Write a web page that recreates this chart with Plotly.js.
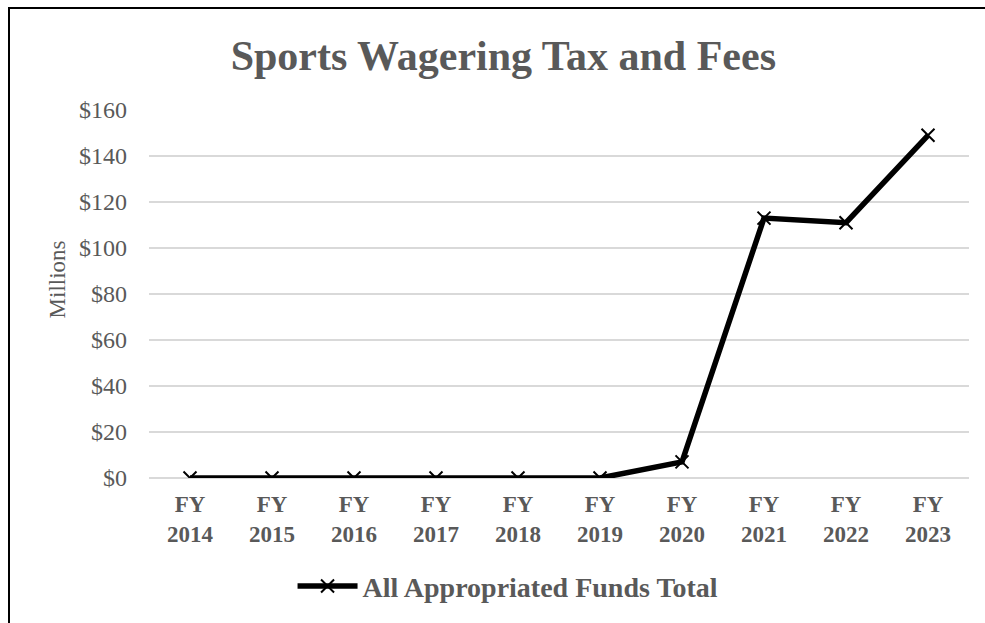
<!DOCTYPE html>
<html>
<head>
<meta charset="utf-8">
<script src="https://cdn.plot.ly/plotly-3.0.1.min.js"></script>
<style>
  html, body { margin: 0; padding: 0; background: white; overflow: hidden; }
  #frame { position: absolute; left: 8px; top: 7px; width: 1100px; height: 800px;
           border-left: 2px solid #000; border-top: 2px solid #000; }
  #chart { position: absolute; left: 0; top: 0; width: 985px; height: 623px; }
</style>
</head>
<body>
<div id="frame"></div>
<div id="chart"></div>
<script>
var fiscalYears = ['FY<br>2014', 'FY<br>2015', 'FY<br>2016', 'FY<br>2017', 'FY<br>2018',
                   'FY<br>2019', 'FY<br>2020', 'FY<br>2021', 'FY<br>2022', 'FY<br>2023'];
var totalFunds = [0, 0, 0, 0, 0, 0, 7, 113, 111, 149];
var seriesName = 'All Appropriated Funds Total';
var yTicks = [0, 20, 40, 60, 80, 100, 120, 140, 160];

var grey = '#595959';
var serif = '"Liberation Serif", "Times New Roman", serif';

var trace = {
	type: 'scatter',
	mode: 'lines+markers',
	x: fiscalYears,
	y: totalFunds,
	name: seriesName,
	line: { color: '#000', width: 5.5 },
	marker: { symbol: 'x-thin', size: 13, color: '#000', line: { color: '#000', width: 2 } }
};

var layout = {
	width: 985,
	height: 623,
	margin: { l: 149, r: 16, t: 110, b: 145 },
	paper_bgcolor: 'rgba(0,0,0,0)',
	plot_bgcolor: 'rgba(0,0,0,0)',
	font: { family: serif, color: grey, size: 20 },
	title: {
		text: '<b>Sports Wagering Tax and Fees</b>',
		font: { family: serif, size: 42, color: grey },
		xref: 'container', x: 0.511, xanchor: 'center',
		yref: 'container', y: 0.912, yanchor: 'middle'
	},
	xaxis: {
		type: 'category',
		showgrid: false,
		zeroline: false,
		showline: false,
		ticks: '',
		tickfont: { family: serif, size: 23, color: grey, weight: 'bold' },
		ticklabelstandoff: 10,
		range: [-0.5, 9.5]
	},
	yaxis: {
		range: [0, 160],
		tickvals: yTicks,
		ticktext: yTicks.map(function (v) { return '$' + v; }),
		showgrid: true,
		gridcolor: '#d9d9d9',
		gridwidth: 1.5,
		zeroline: true,
		zerolinecolor: '#d9d9d9',
		zerolinewidth: 1.5,
		showline: false,
		ticks: '',
		ticklabelstandoff: 21,
		tickfont: { family: serif, size: 24, color: grey }
	},
	annotations: [{
		text: 'Millions',
		xref: 'paper', yref: 'paper',
		x: -0.112, y: 0.54,
		xanchor: 'center', yanchor: 'middle',
		textangle: -90,
		showarrow: false,
		font: { family: serif, size: 23, color: grey }
	}],
	showlegend: true,
	legend: {
		orientation: 'h',
		xref: 'container', x: 0.297, xanchor: 'left',
		yref: 'container', y: 0.059, yanchor: 'middle',
		font: { family: serif, size: 28, color: grey, weight: 'bold' },
		itemwidth: 60
	}
};

Plotly.newPlot('chart', [trace], layout, { displayModeBar: false, staticPlot: true });
</script>
</body>
</html>
